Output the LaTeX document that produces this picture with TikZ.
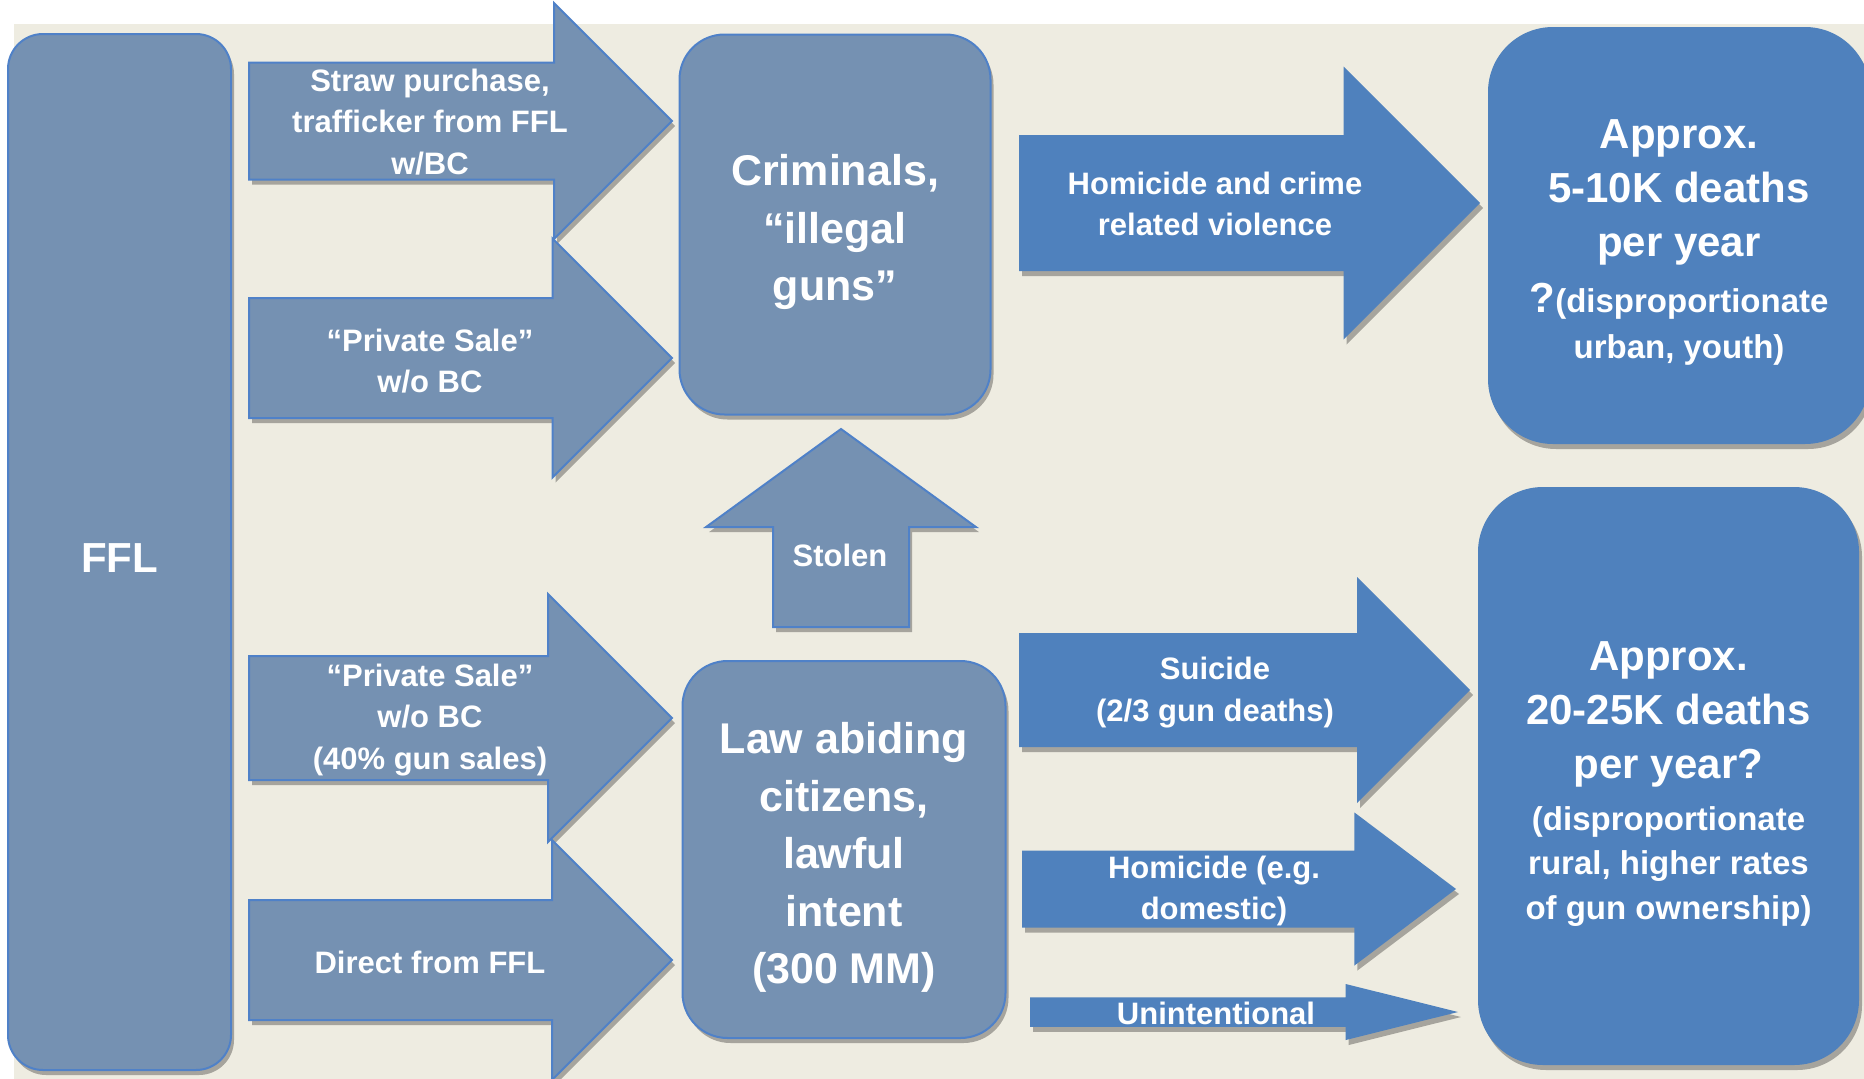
\documentclass[tikz,border=0pt]{standalone}
\usepackage{fontspec}
\setmainfont{Liberation Sans}
\usetikzlibrary{shapes.arrows}
\usetikzlibrary{shadows}
\definecolor{bgbeige}{RGB}{238,236,225}
\definecolor{slate}{RGB}{117,145,178}
\definecolor{rim}{RGB}{79,129,200}
\definecolor{accent}{RGB}{79,129,189}
\newcommand{\bigline}{\fontsize{42}{46}\selectfont}
\tikzset{
    mybox/.style = {rectangle, rounded corners=45pt, line width=2pt, draw=rim, fill=slate, align=center, text=white, font=\bfseries\fontsize{43}{57.5}\selectfont, drop shadow={shadow xshift=3pt, shadow yshift=-5pt, opacity=0.3, fill=black}},
    myboxb/.style = {mybox, draw=none, fill=accent, rounded corners=65pt, font=\bfseries\fontsize{33}{46}\selectfont},
    myarrow/.style = {single arrow, anchor=tail, line width=2pt, draw=rim, fill=slate, inner xsep=0pt, minimum width=0pt, single arrow tip angle=90, drop shadow={shadow xshift=3pt, shadow yshift=-5pt, opacity=0.3, fill=black}},
    myarrowb/.style = {myarrow, draw=none, fill=accent},
    mytext/.style = {align=center, text=white, inner sep=0pt, font=\bfseries\fontsize{31}{41.3}\selectfont}
}
\begin{document}
\begin{tikzpicture}[x=1pt,y=-1pt]
\useasboundingbox (0,0) rectangle (1864,1079);
\fill[bgbeige] (14,24) rectangle (1864,1079);

% boxes
\node[mybox, minimum width=223pt, minimum height=1036pt, rounded corners=35pt, font=\bfseries\fontsize{42}{50}\selectfont, text height=40pt] at (119.5,552) (ffl) {FFL};
\node[mybox, minimum width=311pt, minimum height=380pt, text height=162pt] at (835,224.5) (crim) {Criminals,\\“illegal\\guns”};
\node[mybox, minimum width=323pt, minimum height=377pt, text height=277pt] at (844,849.5) (law) {Law abiding\\citizens,\\lawful\\intent\\(300 MM)};
\node[myboxb, minimum width=382pt, minimum height=417pt, text height=252pt] at (1679,235.5) (urban) {\bigline Approx.\\[8pt]\bigline 5-10K deaths\\[8pt]\bigline per year\\[10pt]{\bigline ?}(disproportionate\\urban, youth)};
\node[myboxb, minimum width=381pt, minimum height=578pt, text height=293pt] at (1668.5,776) (rural) {\bigline Approx.\\[8pt]\bigline 20-25K deaths\\[8pt]\bigline per year?\\[6pt](disproportionate\\[-2pt]rural, higher rates\\[-1pt]of gun ownership)};

% block arrows
\node[myarrow, minimum height=423pt, inner ysep=57.5pt, single arrow head extend=59.5pt] at (248,121) (straw) {};
\node[myarrow, minimum height=423pt, inner ysep=59pt, single arrow head extend=59.5pt] at (248,358) (priv) {};
\node[myarrow, minimum height=423pt, inner ysep=61pt, single arrow head extend=62pt] at (248,718) (privb) {};
\node[myarrow, minimum height=423pt, inner ysep=59pt, single arrow head extend=60pt] at (248,960) (direct) {};
\node[myarrow, minimum height=198pt, inner ysep=67pt, single arrow head extend=67pt, single arrow tip angle=108, rotate=90] at (841,628) (stolen) {};
\node[myarrowb, minimum height=461pt, inner ysep=67pt, single arrow head extend=68.5pt] at (1018,203) (crime) {};
\node[myarrowb, minimum height=451pt, inner ysep=56pt, single arrow head extend=56pt] at (1018,690) (suic) {};
\node[myarrowb, minimum height=434pt, inner ysep=37.5pt, single arrow head extend=38pt, single arrow tip angle=74] at (1021,889) (domes) {};
\node[myarrowb, minimum height=428pt, inner ysep=13.75pt, single arrow head extend=13.25pt, single arrow tip angle=28] at (1029,1012) (unint) {};

% arrow texts
\node[mytext] at (430,122) (straw-t) {Straw purchase,\\trafficker from FFL\\w/BC};
\node[mytext] at (430,361) (priv-t) {“Private Sale”\\w/o BC};
\node[mytext] at (430,720) (privb-t) {“Private Sale”\\w/o BC\\(40\% gun sales)};
\node[mytext] at (430,962) (direct-t) {Direct from FFL};
\node[mytext] at (840,555) (stolen-t) {Stolen};
\node[mytext] at (1215,204) (crime-t) {Homicide and crime\\related violence};
\node[mytext] at (1215,692.5) (suic-t) {Suicide\\(2/3 gun deaths)};
\node[mytext] at (1214,891) (domes-t) {Homicide (e.g.\\domestic)};
\node[mytext] at (1216,1013.5) (unint-t) {Unintentional};

\end{tikzpicture}
\end{document}
